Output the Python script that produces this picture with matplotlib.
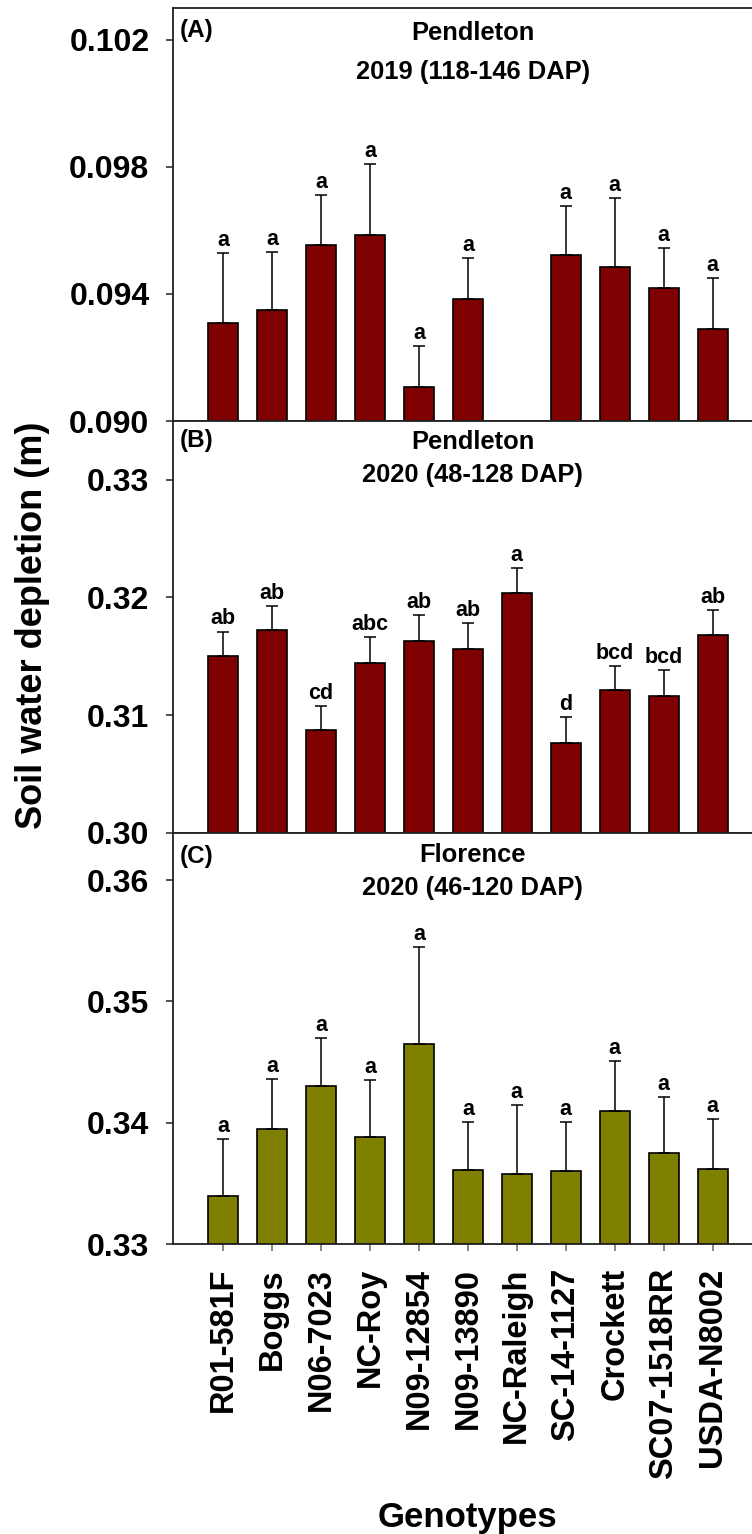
import matplotlib
matplotlib.use("Agg")
import matplotlib.pyplot as plt
from matplotlib.ticker import FormatStrFormatter
import numpy as np

plt.rcParams['font.family'] = ['Liberation Sans', 'DejaVu Sans']
plt.rcParams['font.weight'] = 'bold'

genotypes = ["R01-581F", "Boggs", "N06-7023", "NC-Roy", "N09-12854", "N09-13890",
             "NC-Raleigh", "SC-14-1127", "Crockett", "SC07-1518RR", "USDA-N8002"]

# Pendleton 2019 (NC-Raleigh not measured)
pend19_mean = [0.09308, 0.09349, 0.09554, 0.09586, 0.09108, 0.09384,
               np.nan, 0.09521, 0.09485, 0.09418, 0.09291]
pend19_se = [0.00220, 0.00184, 0.00158, 0.00223, 0.00129, 0.00130,
             np.nan, 0.00155, 0.00218, 0.00127, 0.00158]
pend19_grp = ["a", "a", "a", "a", "a", "a", "", "a", "a", "a", "a"]

# Pendleton 2020
pend20_mean = [0.3150, 0.3172, 0.3087, 0.3144, 0.3163, 0.3156,
               0.3204, 0.3076, 0.3121, 0.3116, 0.3168]
pend20_se = [0.0021, 0.0021, 0.0021, 0.0022, 0.0022, 0.0022,
             0.0021, 0.0022, 0.0021, 0.0022, 0.0021]
pend20_grp = ["ab", "ab", "cd", "abc", "ab", "ab", "a", "d", "bcd", "bcd", "ab"]

# Florence 2020
flor20_mean = [0.3340, 0.3395, 0.3430, 0.3388, 0.3465, 0.3361,
               0.3358, 0.3360, 0.3410, 0.3375, 0.3362]
flor20_se = [0.0047, 0.0041, 0.0040, 0.0047, 0.0080, 0.0040,
             0.0057, 0.0041, 0.0041, 0.0046, 0.0041]
flor20_grp = ["a"] * 11

RED = "#7f0000"
OLIVE = "#808000"

W, H = 752, 1534
fig = plt.figure(figsize=(W / 100, H / 100), dpi=100)
fig.patch.set_facecolor("white")

left_px, right_px = 173, 752
panels = [
    dict(top=8, bottom=421, mean=pend19_mean, se=pend19_se, grp=pend19_grp, color=RED,
         ylim=(0.090, 0.1030), ticks=[0.090, 0.094, 0.098, 0.102], fmt="%.3f",
         label="(A)", site="Pendleton", period="2019 (118-146 DAP)",
         ys=(0.9225, 0.828), ly=0.930),
    dict(top=421, bottom=832.7, mean=pend20_mean, se=pend20_se, grp=pend20_grp, color=RED,
         ylim=(0.30, 0.335), ticks=[0.30, 0.31, 0.32, 0.33], fmt="%.2f",
         label="(B)", site="Pendleton", period="2020 (48-128 DAP)",
         ys=(0.932, 0.853), ly=0.9376),
    dict(top=832.7, bottom=1244.3, mean=flor20_mean, se=flor20_se, grp=flor20_grp, color=OLIVE,
         ylim=(0.33, 0.3639), ticks=[0.33, 0.34, 0.35, 0.36], fmt="%.2f",
         label="(C)", site="Florence", period="2020 (46-120 DAP)",
         ys=(0.9295, 0.849), ly=0.926),
]

x = np.arange(len(genotypes))
spine_col = "#222222"

axes = []
for i, p in enumerate(panels):
    ax = fig.add_axes([left_px / W, 1 - p["bottom"] / H,
                       (right_px - left_px) / W, (p["bottom"] - p["top"]) / H])
    axes.append(ax)
    mean = np.array(p["mean"], dtype=float)
    se = np.array(p["se"], dtype=float)
    ok = ~np.isnan(mean)
    ax.bar(x[ok], mean[ok] - p["ylim"][0], bottom=p["ylim"][0], width=0.61,
           color=p["color"], edgecolor="black", linewidth=1.2, zorder=2)
    ax.errorbar(x[ok], mean[ok], yerr=[np.zeros(ok.sum()), se[ok]], fmt="none",
                ecolor="black", elinewidth=1.1, capsize=4.5, capthick=1.1, zorder=3)
    for xi, m, s, g in zip(x, mean, se, p["grp"]):
        if np.isnan(m):
            continue
        ax.annotate(g, (xi, m + s), xytext=(0, 1.5), textcoords="offset points",
                    ha="center", va="bottom", fontsize=15.5, fontweight="bold")
    ax.set_xlim(-1.02, 10.8)
    ax.set_ylim(*p["ylim"])
    ax.set_yticks(p["ticks"])
    ax.yaxis.set_major_formatter(FormatStrFormatter(p["fmt"]))
    ax.tick_params(axis="y", direction="out", length=5, width=1.1, pad=12,
                   labelsize=23, color=spine_col)
    for lab in ax.get_yticklabels():
        lab.set_fontweight("bold")
    ax.spines["right"].set_visible(False)
    for sp in ("left", "top", "bottom"):
        ax.spines[sp].set_linewidth(1.3)
        ax.spines[sp].set_color(spine_col)
    tx = ("data", "axes fraction")
    ax.annotate(p["site"], (5.1, p["ys"][0]), xycoords=tx, ha="center", va="baseline",
                fontsize=18.4, fontweight="bold")
    ax.annotate(p["period"], (5.1, p["ys"][1]), xycoords=tx, ha="center", va="baseline",
                fontsize=18.4, fontweight="bold")
    ax.text(0.012, p["ly"], p["label"], transform=ax.transAxes, ha="left", va="baseline",
            fontsize=17.5, fontweight="bold")
    if i < 2:
        ax.set_xticks([])
    else:
        ax.set_xticks(x)
        ax.set_xticklabels(genotypes, rotation=90, fontsize=23.5, fontweight="bold")
        ax.tick_params(axis="x", direction="out", length=5, width=1.1, pad=12,
                       color="#666666")

fig.text(33 / W, 1 - 625 / H, "Soil water depletion (m)", rotation=90, ha="center",
         va="center", fontsize=26, fontweight="bold")
fig.text(467.5 / W, 1 - 1527 / H, "Genotypes", ha="center", va="baseline",
         fontsize=25, fontweight="bold")

fig.savefig("out.png", dpi=100, facecolor="white")
